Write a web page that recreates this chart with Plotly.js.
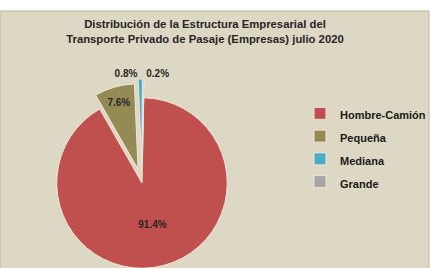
<!DOCTYPE html>
<html>
<head>
<meta charset="utf-8">
<script src="https://cdn.plot.ly/plotly-3.0.1.min.js"></script>
<style>
html, body { margin:0; padding:0; overflow:hidden; width:431px; height:268px; background:#fff; }
#chart { width:431px; height:300px; }
</style>
</head>
<body>
<div id="chart"></div>
<script>
const categories = ["Hombre-Camión", "Pequeña", "Mediana", "Grande"];
const shares = [91.4, 7.6, 0.8, 0.2];
const sliceColors = ["#c0504d", "#948a54", "#4bacc6", "#a5a5a5"];
const pulls = [0, 0.17, 0.22, 0.22];
const textPositions = ["inside", "inside", "outside", "outside"];
const titleText = "<b>Distribución de la Estructura Empresarial del<br>Transporte Privado de Pasaje (Empresas) julio 2020</b>";

const W = 431, H = 300;

const trace = {
  type: "pie",
  labels: categories.map(c => '<span style="font-size:11px">' + c + '</span>'),
  values: shares,
  sort: false,
  direction: "clockwise",
  rotation: 1.2,
  pull: pulls,
  marker: { colors: sliceColors, line: { color: "#f3e4da", width: 1 } },
  texttemplate: shares.map(v => v.toFixed(1) + "%"),
  textinfo: "text",
  textposition: textPositions,
  insidetextorientation: "horizontal",
  textfont: { family: "Liberation Sans", size: 10, color: "#262626", weight: "bold" },
  outsidetextfont: { family: "Liberation Sans", size: 10, color: "#262626", weight: "bold" },
  insidetextfont: { family: "Liberation Sans", size: 10, color: "#262626", weight: "bold" },
  domain: { x: [38 / W, 246 / W], y: [(H - 183 - 104) / H, (H - 183 + 104) / H] },
  hoverinfo: "none",
  automargin: false
};

const layout = {
  width: W,
  height: H,
  margin: { l: 0, r: 0, t: 0, b: 0 },
  paper_bgcolor: "#ffffff",
  showlegend: true,
  title: {
    text: titleText,
    x: 205 / W,
    xanchor: "center",
    y: 1 - 28 / H,
    yanchor: "middle",
    font: { family: "Liberation Sans", size: 11.3, color: "#262626" }
  },
  legend: {
    x: 300 / W,
    xanchor: "left",
    y: 1 - 97 / H,
    yanchor: "top",
    bgcolor: "rgba(0,0,0,0)",
    font: { family: "Liberation Sans", size: 15.2, color: "#1a1a1a", weight: "bold" },
    itemwidth: 30
  },
  shapes: [{
    type: "rect", xref: "paper", yref: "paper", layer: "below",
    x0: 0, x1: 429 / W, y0: 0, y1: 1 - 11 / H,
    fillcolor: "#ddd8c4", line: { color: "#b8b4a6", width: 1 }
  }]
};

Plotly.newPlot("chart", [trace], layout, { displayModeBar: false, staticPlot: true });
</script>
</body>
</html>
